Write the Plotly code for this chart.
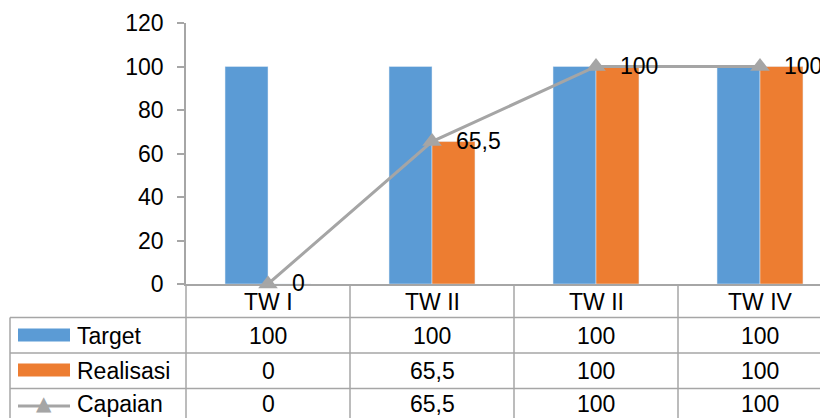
import plotly.graph_objects as go

categories = ["TW I", "TW II", "TW II", "TW IV"]
target = [100, 100, 100, 100]
realisasi = [0, 65.5, 100, 100]
capaian = [0, 65.5, 100, 100]
series_names = ["Target", "Realisasi", "Capaian"]
y_ticks = [0, 20, 40, 60, 80, 100, 120]

BLUE = "#5B9BD5"
ORANGE = "#ED7D31"
GRAY = "#A5A5A5"
GRID = "#A6A6A6"
FONT = "Liberation Sans, Arial, sans-serif"
FS = 23

# page offset (browser body margin)
OX, OY = 8, 8
WIN_W, WIN_H = 828, 418
W, H = WIN_W - OX, WIN_H - OY

# plot area in window pixels
AX_L, AX_T, AX_B = 186, 23, 284
L = AX_L - OX
T = AX_T - OY
B = H - (AX_B - OY)
PH = AX_B - AX_T
PW = WIN_W - AX_L


def fmt(v):
    if float(v).is_integer():
        return str(int(v))
    return str(v).replace(".", ",")


def py(p):  # window pixel y -> paper y
    return (AX_B - p) / PH


def px(p):  # window pixel x -> paper x
    return (p - AX_L) / PW


xs = list(range(len(categories)))
col_w = 164
x_max = -0.5 + PW / col_w

fig = go.Figure()
fig.add_trace(go.Bar(x=xs, y=target, name=series_names[0], marker_color=BLUE))
fig.add_trace(go.Bar(x=xs, y=realisasi, name=series_names[1], marker_color=ORANGE))
fig.add_trace(go.Scatter(x=xs, y=capaian, name=series_names[2], mode="lines+markers",
                         line=dict(color=GRAY, width=3),
                         marker=dict(symbol="triangle-up", size=17, color=GRAY),
                         cliponaxis=False))

shapes = []
annotations = []
lc = dict(color=GRID, width=1.5)

row_bounds = [284, 317.5, 353, 388.5, 424]
for yb in row_bounds[1:4]:
    shapes.append(dict(type="line", xref="paper", yref="paper", x0=px(10), x1=1,
                       y0=py(yb), y1=py(yb), line=lc, layer="above"))
shapes.append(dict(type="line", xref="paper", yref="paper", x0=px(10), x1=px(10),
                   y0=py(317.5), y1=py(424), line=lc))
for k in range(len(categories)):
    xp = px(AX_L + k * col_w)
    shapes.append(dict(type="line", xref="paper", yref="paper", x0=xp, x1=xp,
                       y0=py(284), y1=py(424), line=lc))

hc = (row_bounds[0] + row_bounds[1]) / 2 + 1
for i, c in enumerate(categories):
    annotations.append(dict(x=i, y=py(hc), xref="x", yref="paper", text=c,
                            showarrow=False, xanchor="center", yanchor="middle",
                            font=dict(size=FS, color="black", family=FONT)))

rows = [target, realisasi, capaian]
row_centers = [336, 371, 404]
for r, vals in enumerate(rows):
    yc = row_centers[r]
    for i, v in enumerate(vals):
        annotations.append(dict(x=i, y=py(yc), xref="x", yref="paper", text=fmt(v),
                                showarrow=False, xanchor="center", yanchor="middle",
                                font=dict(size=FS, color="black", family=FONT)))
    annotations.append(dict(x=px(75), y=py(yc), xref="paper", yref="paper",
                            text=series_names[r], showarrow=False, xanchor="left",
                            yanchor="middle",
                            font=dict(size=FS, color="black", family=FONT)))

# legend keys
for r, col in enumerate([BLUE, ORANGE]):
    yk = row_centers[r] - 1
    shapes.append(dict(type="rect", xref="paper", yref="paper", x0=px(18), x1=px(70),
                       y0=py(yk - 6.5), y1=py(yk + 6.5), fillcolor=col,
                       line=dict(width=0)))
yk = 406
shapes.append(dict(type="line", xref="paper", yref="paper", x0=px(18), x1=px(70),
                   y0=py(yk), y1=py(yk), line=dict(color=GRAY, width=3)))
annotations.append(dict(x=px(44), y=py(yk - 3), xref="paper", yref="paper", text="▲",
                        showarrow=False, xanchor="center", yanchor="middle",
                        font=dict(size=20, color=GRAY, family="DejaVu Sans")))

for i, v in enumerate(capaian):
    annotations.append(dict(x=i, y=v, xref="x", yref="y", text=fmt(v), showarrow=False,
                            xanchor="left", yanchor="middle", xshift=22, yshift=1,
                            font=dict(size=FS, color="black", family=FONT)))

fig.update_layout(
    width=W, height=H,
    margin=dict(l=L, r=0, t=T, b=B),
    paper_bgcolor="white", plot_bgcolor="white",
    barmode="group", bargap=0.476, bargroupgap=0,
    showlegend=False,
    font=dict(family=FONT, size=FS, color="black"),
    shapes=shapes, annotations=annotations,
    xaxis=dict(range=[-0.5, x_max], showticklabels=False, ticks="",
               showgrid=False, zeroline=False, showline=True, linecolor=GRID,
               linewidth=1.5),
    yaxis=dict(range=[0, 120], tickvals=y_ticks, ticks="outside", ticklen=7,
               tickcolor=GRID, tickwidth=1.5, showgrid=False, zeroline=False,
               showline=True, linecolor=GRID, linewidth=1.5,
               ticklabelstandoff=9,
               tickfont=dict(size=FS, color="black", family=FONT)),
)

fig.write_html("out.html")
